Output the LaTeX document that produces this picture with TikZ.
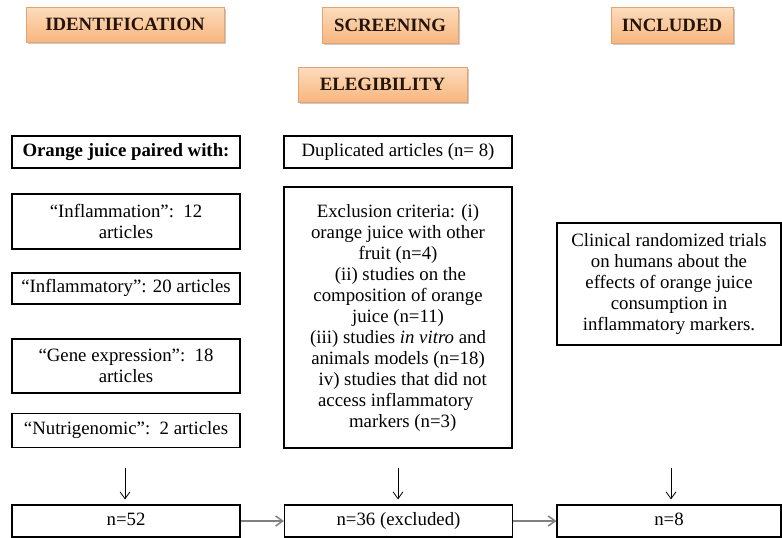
\documentclass[tikz,border=0pt]{standalone}
\usepackage{fontspec}
\setmainfont{Liberation Serif}
\usetikzlibrary{arrows.meta,shadows}
\definecolor{hdrtop}{HTML}{FCDCC0}
\definecolor{hdrmid}{HTML}{FAC99C}
\definecolor{hdrbot}{HTML}{F7B680}
\definecolor{hdrline}{HTML}{E3A46E}
\definecolor{hdrtext}{HTML}{24150C}
\tikzset{
  hdr/.style={draw=hdrline, line width=0.6pt, top color=hdrtop, bottom color=hdrbot, middle color=hdrmid,
    drop shadow={shadow xshift=1.5pt, shadow yshift=-2pt, fill=black!35, opacity=0.6},
    inner sep=0pt, font=\fontsize{18.8}{21}\selectfont\bfseries, text=hdrtext},
  box/.style={draw=black, line width=1.1pt, inner sep=0pt, align=center,
    font=\fontsize{18.8}{21}\selectfont},
  down/.style={-{Straight Barb[length=7pt,width=10pt]}, line width=0.8pt, black},
  side/.style={-{Straight Barb[length=7pt,width=10pt]}, line width=1.5pt, black!50},
}
\begin{document}
\begin{tikzpicture}[x=1pt,y=-1pt]
\useasboundingbox (0,0) rectangle (782,538);
% headers
\node[hdr, minimum width=198pt, minimum height=35pt] (hid) at (125,24.5) {IDENTIFICATION};
\node[hdr, minimum width=136pt, minimum height=36pt] (hsc) at (390,25) {SCREENING};
\node[hdr, minimum width=122pt, minimum height=36pt] (hin) at (672,25) {INCLUDED};
\node[hdr, minimum width=169pt, minimum height=35pt] (hel) at (382.5,84.5) {ELEGIBILITY};
% left column
\node[box, minimum width=228pt, minimum height=32pt] (oj) at (126,152) {\strut\bfseries Orange juice paired with:};
\node[box, minimum width=228pt, minimum height=55pt] (k1) at (126,221.5) {“Inflammation”:\ \ 12\\articles};
\node[box, minimum width=228pt, minimum height=31pt] (k2) at (126,288.5) {\strut“Inflammatory”: 20 articles};
\node[box, minimum width=228pt, minimum height=54pt] (k3) at (126,366) {“Gene expression”:\ \ 18\\articles};
\node[box, minimum width=228pt, minimum height=34pt] (k4) at (126,430.5) {\strut“Nutrigenomic”:\ \ 2 articles};
% middle column
\node[box, minimum width=228pt, minimum height=32pt] (dup) at (398,152) {\strut Duplicated articles (n= 8)};
\node[box, minimum width=228pt, minimum height=261pt] (exc) at (398,317.5) {Exclusion criteria: (i)\\orange juice with other\\fruit (n=4)\\\ (ii) studies on the\\composition of orange\\juice (n=11)\\(iii) studies \textit{in vitro} and\\animals models (n=18)\\\ \ iv) studies that did not\\access inflammatory\ \ \ \\\ \ markers (n=3)};
% right column
\node[box, minimum width=224pt, minimum height=122pt] (cli) at (669,284) {Clinical randomized trials\\on humans about the\\effects of orange juice\\consumption in\\inflammatory markers.};
% bottom row
\node[box, minimum width=228pt, minimum height=32pt] (n52) at (126,521) {\strut n=52};
\node[box, minimum width=228pt, minimum height=32pt] (n36) at (398.5,521) {\strut n=36 (excluded)};
\node[box, minimum width=224pt, minimum height=32pt] (n8) at (669,521) {\strut n=8};
% arrows
\coordinate (a1) at (125,468);
\coordinate (a2) at (398,468);
\coordinate (a3) at (671,468);
\draw[down] (a1) -- ([yshift=5pt]n52.north -| a1);
\draw[down] (a2) -- ([yshift=5pt]n36.north -| a2);
\draw[down] (a3) -- ([yshift=5pt]n8.north -| a3);
\draw[side] (n52.east) -- (n36.west);
\draw[side] (n36.east) -- (n8.west);
\end{tikzpicture}
\end{document}
